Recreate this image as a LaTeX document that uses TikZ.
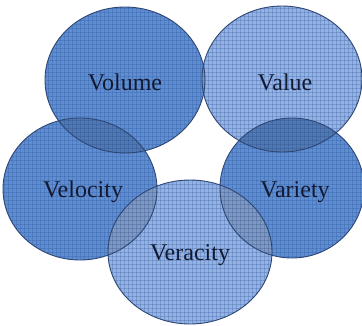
\documentclass[tikz,border=0pt]{standalone}
\usepackage{fontspec}
\setmainfont{Liberation Serif}
\definecolor{darkfill}{RGB}{94,141,210}
\definecolor{lightfill}{RGB}{148,178,228}
\definecolor{edge}{RGB}{45,70,115}
\definecolor{txt}{RGB}{18,26,50}
\definecolor{gridc}{RGB}{40,80,150}
\begin{document}
\begin{tikzpicture}[x=1pt,y=-1pt,
  lbl/.style={font=\fontsize{24}{26}\selectfont, text=txt},
  gline/.style={gridc, opacity=0.25, line width=0.35pt}]
\useasboundingbox (0,0) rectangle (362,325);
\clip (0,0) rectangle (362,325);
% fills with grid texture
\foreach \cx/\cy/\rx/\ry/\fc in {125/80/80/73/darkfill,282/79/80/73/lightfill,80/189/77/71/darkfill,292/188/72/70/darkfill,190/252/82/72/lightfill}{
  \fill[\fc] (\cx,\cy) ellipse [x radius=\rx, y radius=\ry];
  \begin{scope}
    \clip (\cx,\cy) ellipse [x radius=\rx, y radius=\ry];
    \foreach \g in {0,4,...,364}{ \draw[gline] (\g,0) -- (\g,325); }
    \foreach \g in {0,4,...,328}{ \draw[gline] (0,\g) -- (362,\g); }
  \end{scope}
}
% overlaps darkened
\foreach \ax/\ay/\arx/\ary/\bx/\by/\brx/\bry in {125/80/80/73/282/79/80/73,125/80/80/73/80/189/77/71,282/79/80/73/292/188/72/70,80/189/77/71/190/252/82/72,292/188/72/70/190/252/82/72}{
  \begin{scope}
    \clip (\ax,\ay) ellipse [x radius=\arx, y radius=\ary];
    \fill[black, opacity=0.14] (\bx,\by) ellipse [x radius=\brx, y radius=\bry];
  \end{scope}
}
% outlines
\foreach \cx/\cy/\rx/\ry in {125/80/80/73,282/79/80/73,80/189/77/71,292/188/72/70,190/252/82/72}{
  \draw[edge, line width=0.9pt] (\cx,\cy) ellipse [x radius=\rx, y radius=\ry];
}
\node[lbl] (volume) at (125,82) {Volume};
\node[lbl] (value) at (285,82) {Value};
\node[lbl] (velocity) at (83,192) {Velocity};
\node[lbl] (variety) at (295,192) {Variety};
\node[lbl] (veracity) at (190,255) {Veracity};
\end{tikzpicture}
\end{document}
